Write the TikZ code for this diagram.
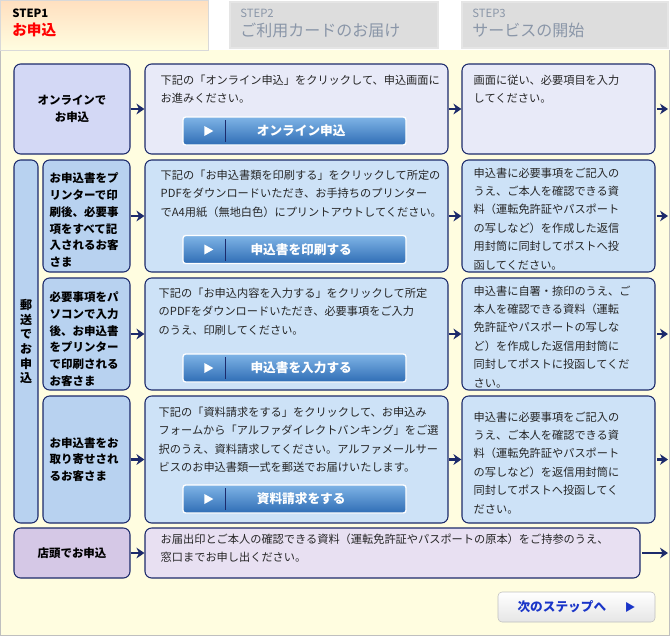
\documentclass[tikz,border=0pt]{standalone}
\usepackage{fontspec}
\setmainfont{Noto Sans CJK JP}
\usetikzlibrary{calc,arrows.meta}
\definecolor{navy}{HTML}{1C2A6B}
\definecolor{bgy}{HTML}{FFFDE0}
\definecolor{lav}{HTML}{D3D8F5}
\definecolor{lavl}{HTML}{E8EAF8}
\definecolor{bl}{HTML}{B8D2F0}
\definecolor{bll}{HTML}{CDE2F7}
\definecolor{pur}{HTML}{D5C8E6}
\definecolor{purl}{HTML}{E8E0F2}
\definecolor{btop}{HTML}{7FB4E6}
\definecolor{bbot}{HTML}{2F6DB5}
\definecolor{tabg}{HTML}{DDDDDD}
\definecolor{tabt}{HTML}{8A96A8}
\definecolor{nxt}{HTML}{1A35C8}
\tikzset{
  box/.style={draw=navy,line width=0.8pt,rounded corners=5pt,inner sep=0pt},
  lbl/.style={font=\bfseries\fontsize{8.6}{13}\selectfont,align=center,text=black},
  lbs/.style={anchor=north west,inner sep=0pt,align=left,font=\bfseries\fontsize{8.6}{12.6}\selectfont},
  txt/.style={anchor=north west,align=left,inner sep=0pt,font=\fontsize{8.4}{13.8}\selectfont,text=black!85},
  arr/.style={draw=navy,line width=2.2pt,-{Stealth[length=6pt,width=8pt]}},
  btn/.style={draw=white,line width=1pt,rounded corners=2pt,top color=btop,bottom color=bbot,minimum width=167.25pt,minimum height=21pt,text=white,font=\bfseries\fontsize{9.5}{12}\selectfont},
}
\newcommand{\mybtn}[3]{%
  \node[btn] (#1) at (#2) {\hspace{10pt}#3};
  \fill[white] ($(#1.west)+(22,-5)$) -- ($(#1.west)+(22,5)$) -- ($(#1.west)+(31,0)$) -- cycle;
  \draw[navy,line width=0.8pt] ($(#1.west)+(43,-11)$) -- ($(#1.west)+(43,11)$);
}
\begin{document}
\begin{tikzpicture}[x=0.75pt,y=-0.75pt]
\useasboundingbox (0,0) rectangle (670,636);
\fill[white] (0,0) rectangle (670,636);
\fill[bgy] (0,50) rectangle (670,636);
\draw[black!25] (0.5,50) -- (0.5,635.5) -- (669.5,635.5) -- (669.5,50);
% tabs
\node[minimum width=156pt,minimum height=37.5pt,inner sep=0pt,top color=orange!25,bottom color=bgy,draw=black!15] (t1) at (104,25) {};
\node[anchor=north west,inner sep=0pt,font=\bfseries\fontsize{8.5}{10}\selectfont] (s1) at (12,9) {STEP1};
\node[anchor=north west,inner sep=0pt,text=red,font=\bfseries\fontsize{11}{13}\selectfont] (s1b) at (12,23) {お申込};
\node[draw=black!10,line width=1.5pt,fill=tabg,minimum width=156pt,minimum height=34.5pt,inner sep=0pt] (t2) at (334,25) {};
\node[anchor=north west,inner sep=0pt,text=tabt,font=\fontsize{8.5}{10}\selectfont] (s2) at (240,9) {STEP2};
\node[anchor=north west,inner sep=0pt,text=tabt,font=\fontsize{12}{14}\selectfont] (s2b) at (240,23) {ご利用カードのお届け};
\node[draw=black!10,line width=1.5pt,fill=tabg,minimum width=154.5pt,minimum height=34.5pt,inner sep=0pt] (t3) at (565,25) {};
\node[anchor=north west,inner sep=0pt,text=tabt,font=\fontsize{8.5}{10}\selectfont] (s3) at (472,9) {STEP3};
\node[anchor=north west,inner sep=0pt,text=tabt,font=\fontsize{12}{14}\selectfont] (s3b) at (472,23) {サービスの開始};
% row 1
\node[box,fill=lav,minimum width=87pt,minimum height=67.5pt] (l1) at (72,109) {};
\node[lbl] at (l1) {オンラインで\\お申込};
\node[box,fill=lavl,minimum width=227.25pt,minimum height=67.5pt] (m1) at (296.5,109) {};
\node[box,fill=lavl,minimum width=144.75pt,minimum height=67.5pt] (r1) at (558.5,109) {};
\node[txt] at ($(m1.north west)+(16,11)$) {下記の「オンライン申込」をクリックして、申込画面に\\お進みください。};
\node[txt] at ($(r1.north west)+(12,11)$) {画面に従い、必要項目を入力\\してください。};
\mybtn{b1}{294.5,131}{オンライン申込}
% mail section
\node[box,fill=bl,minimum width=18pt,minimum height=272.25pt] (ml) at (26,341.5) {};
\node[lbl,font=\bfseries\fontsize{9}{11}\selectfont] at (ml) {郵\\送\\で\\お\\申\\込};
% row 2
\node[box,fill=bl,minimum width=65.25pt,minimum height=84pt] (l2) at (86.5,216) {};
\node[lbs] at ($(l2.north west)+(7,13)$) {お申込書をプ\\リンターで印\\刷後、必要事\\項をすべて記\\入されるお客\\さま};
\node[box,fill=bll,minimum width=227.25pt,minimum height=84pt] (m2) at (296.5,216) {};
\node[txt] at ($(m2.north west)+(16,10)$) {下記の「お申込書類を印刷する」をクリックして所定の\\PDFをダウンロードいただき、お手持ちのプリンター\\でA4用紙（無地白色）にプリントアウトしてください。};
\mybtn{b2}{294.5,249.5}{申込書を印刷する}
\node[box,fill=bll,minimum width=144.75pt,minimum height=84pt] (r2) at (558.5,216) {};
\node[txt] at ($(r2.north west)+(12,8)$) {申込書に必要事項をご記入の\\うえ、ご本人を確認できる資\\料（運転免許証やパスポート\\の写しなど）を作成した返信\\用封筒に同封してポストへ投\\函してください。};
% row 3
\node[box,fill=bl,minimum width=65.25pt,minimum height=84pt] (l3) at (86.5,334) {};
\node[lbs] at ($(l3.north west)+(7,14)$) {必要事項をパ\\ソコンで入力\\後、お申込書\\をプリンター\\で印刷される\\お客さま};
\node[box,fill=bll,minimum width=227.25pt,minimum height=84pt] (m3) at (296.5,334) {};
\node[txt] at ($(m3.north west)+(14,10)$) {下記の「お申込内容を入力する」をクリックして所定\\のPDFをダウンロードいただき、必要事項をご入力\\のうえ、印刷してください。};
\mybtn{b3}{294.5,368}{申込書を入力する}
\node[box,fill=bll,minimum width=144.75pt,minimum height=84pt] (r3) at (558.5,334) {};
\node[txt] at ($(r3.north west)+(12,8)$) {申込書に自署・捺印のうえ、ご\\本人を確認できる資料（運転\\免許証やパスポートの写しな\\ど）を作成した返信用封筒に\\同封してポストに投函してくだ\\さい。};
% row 4
\node[box,fill=bl,minimum width=65.25pt,minimum height=95.25pt] (l4) at (86.5,459.5) {};
\node[anchor=west,inner sep=0pt,align=left,font=\bfseries\fontsize{8.6}{12.6}\selectfont] at ($(l4.west)+(7,0)$) {お申込書をお\\取り寄せされ\\るお客さま};
\node[box,fill=bll,minimum width=227.25pt,minimum height=95.25pt] (m4) at (296.5,459.5) {};
\node[txt] at ($(m4.north west)+(14,11)$) {下記の「資料請求をする」をクリックして、お申込み\\フォームから「アルファダイレクトバンキング」をご選\\択のうえ、資料請求してください。アルファメールサー\\ビスのお申込書類一式を郵送でお届けいたします。};
\mybtn{b4}{294.5,499}{資料請求をする}
\node[box,fill=bll,minimum width=144.75pt,minimum height=95.25pt] (r4) at (558.5,459.5) {};
\node[txt] at ($(r4.north west)+(12,16)$) {申込書に必要事項をご記入の\\うえ、ご本人を確認できる資\\料（運転免許証やパスポート\\の写しなど）を返信用封筒に\\同封してポストへ投函してく\\ださい。};
% row 5
\node[box,fill=pur,minimum width=87pt,minimum height=37.5pt] (l5) at (72,553) {};
\node[lbl] at (l5) {店頭でお申込};
\node[box,fill=purl,minimum width=371.25pt,minimum height=37.5pt] (m5) at (392.5,553) {};
\node[txt] at ($(m5.north west)+(16,6)$) {お届出印とご本人の確認できる資料（運転免許証やパスポートの原本）をご持参のうえ、\\窓口までお申し出ください。};
% next button
\node[draw=black!25,rounded corners=3pt,top color=white,bottom color=black!10,minimum width=117.75pt,minimum height=22.5pt,inner sep=0pt,text=nxt,font=\bfseries\fontsize{9.5}{12}\selectfont] (nx) at (576.5,607) {次のステップへ\hspace{14pt}{\fontsize{8}{10}\selectfont ▶}};
% arrows
\coordinate (e1) at (668,109);
\coordinate (e2) at (668,216);
\coordinate (e3) at (668,334);
\coordinate (e4) at (668,459.5);
\coordinate (e5) at (668,553);
\draw[arr] (l1.east) -- (m1.west);
\draw[arr] (m1.east) -- (r1.west);
\draw[arr] ([xshift=1pt]r1.east) -- (e1);
\draw[arr] (l2.east) -- (m2.west);
\draw[arr] (m2.east) -- (r2.west);
\draw[arr] ([xshift=1pt]r2.east) -- (e2);
\draw[arr] (l3.east) -- (m3.west);
\draw[arr] (m3.east) -- (r3.west);
\draw[arr] ([xshift=1pt]r3.east) -- (e3);
\draw[arr] (l4.east) -- (m4.west);
\draw[arr] (m4.east) -- (r4.west);
\draw[arr] ([xshift=1pt]r4.east) -- (e4);
\draw[arr] (l5.east) -- (m5.west);
\draw[arr] ([xshift=1pt]m5.east) -- (e5);
\end{tikzpicture}
\end{document}
